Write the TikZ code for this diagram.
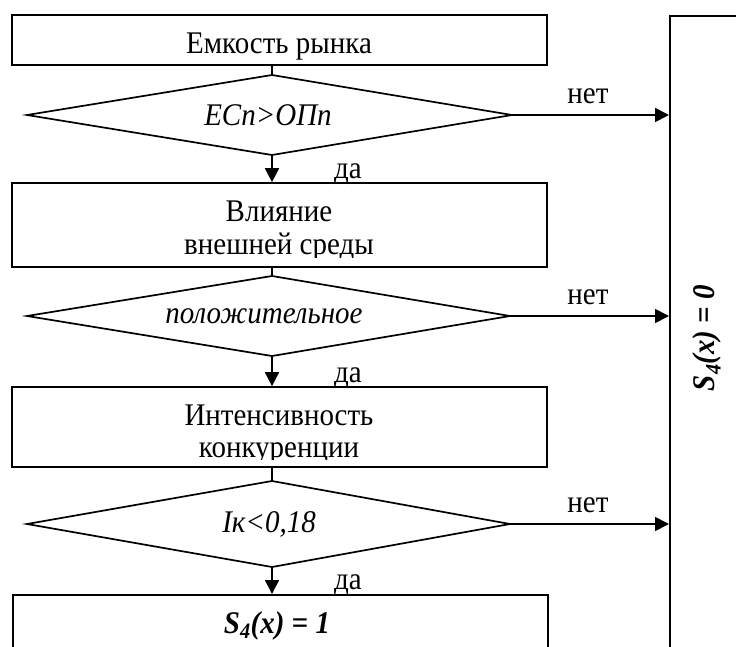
\documentclass[tikz,border=0pt]{standalone}
\usepackage{fontspec}
\setmainfont[FakeStretch=0.92]{Liberation Serif}
\usetikzlibrary{arrows.meta}
\begin{document}
\begin{tikzpicture}[x=1pt,y=-1pt,
  line width=1.7pt,
  every node/.style={font=\fontsize{31.5}{33}\selectfont},
  block/.style={draw, rectangle, inner sep=0pt, minimum width=535pt},
  cond/.style={inner sep=0pt, font=\fontsize{31.5}{33}\selectfont\itshape},
  txt/.style={anchor=base, inner sep=0pt},
  flow/.style={-{Triangle[length=14pt,width=14pt]}}]

\useasboundingbox (0,0) rectangle (736,646);
\clip (0,0) rectangle (736,646);

% blocks on the main column
\node[block, minimum height=50pt] (b1) at (279.5,40) {};
\node[block, minimum height=84pt] (b2) at (279.5,225) {};
\node[block, minimum height=80pt] (b3) at (279.5,427) {};
\node[block, minimum height=100pt, anchor=north west] (b4) at (12,594) {};

% decision diamonds: corners and condition texts
\coordinate (d1w) at (27,115);  \coordinate (d1e) at (512,115);
\coordinate (d1n) at (272,75);  \coordinate (d1s) at (272,155);
\coordinate (d2w) at (27,316);  \coordinate (d2e) at (510,316);
\coordinate (d2n) at (272,276); \coordinate (d2s) at (272,356);
\coordinate (d3w) at (27,524);  \coordinate (d3e) at (510,524);
\coordinate (d3n) at (272,481); \coordinate (d3s) at (272,567);
\draw[line join=miter] (d1w) -- (d1n) -- (d1e) -- (d1s) -- cycle;
\draw[line join=miter] (d2w) -- (d2n) -- (d2e) -- (d2s) -- cycle;
\draw[line join=miter] (d3w) -- (d3n) -- (d3e) -- (d3s) -- cycle;
\node[cond] (d1) at (268,115) {ECn>OПn};
\node[cond] (d2) at (264,316) {положительное};
\node[cond] (d3) at (269,524) {Iк<0,18};

% result column on the right
\node[draw, rectangle, inner sep=0pt, anchor=north west,
      minimum width=120pt, minimum height=700pt] (r) at (669,15) {};
\node[rotate=90, font=\fontsize{31.5}{33}\selectfont\bfseries\itshape] (rt) at (707,338)
  {S\textsubscript{4}(x) = 0};

% block texts (two-line texts are cut by the frame margin)
\node[txt] (t1) at (279,53) {Емкость рынка};
\coordinate (c2) at (547,257);
\begin{scope}
  \clip (b2.north west) rectangle (c2);
  \node[txt] (t2a) at (279,221) {Влияние};
  \node[txt] (t2b) at (279,254) {внешней среды};
\end{scope}
\coordinate (c3) at (547,459);
\begin{scope}
  \clip (b3.north west) rectangle (c3);
  \node[txt] (t3a) at (279,425) {Интенсивность};
  \node[txt] (t3b) at (279,457) {конкуренции};
\end{scope}
\node[txt, font=\fontsize{31.5}{33}\selectfont\bfseries\itshape] (t4) at (277,633)
  {S\textsubscript{4}(x) = 1};

% connectors
\draw (d1n |- b1.south) -- (d1n);
\draw (d2n |- b2.south) -- (d2n);
\draw (d3n |- b3.south) -- (d3n);
\draw[flow] (d1s) -- (d1s |- b2.north);
\draw[flow] (d2s) -- (d2s |- b3.north);
\draw[flow] (d3s) -- (d3s |- b4.north);
\draw[flow] (d1e) -- (d1e -| r.west);
\draw[flow] (d2e) -- (d2e -| r.west);
\draw[flow] (d3e) -- (d3e -| r.west);

% branch labels
\node[txt] (n1) at (588,103) {нет};
\node[txt] (n2) at (588,304) {нет};
\node[txt] (n3) at (588,512) {нет};
\node[txt] (y1) at (348,178) {да};
\node[txt] (y2) at (348,382) {да};
\node[txt] (y3) at (348,589) {да};
\end{tikzpicture}
\end{document}
